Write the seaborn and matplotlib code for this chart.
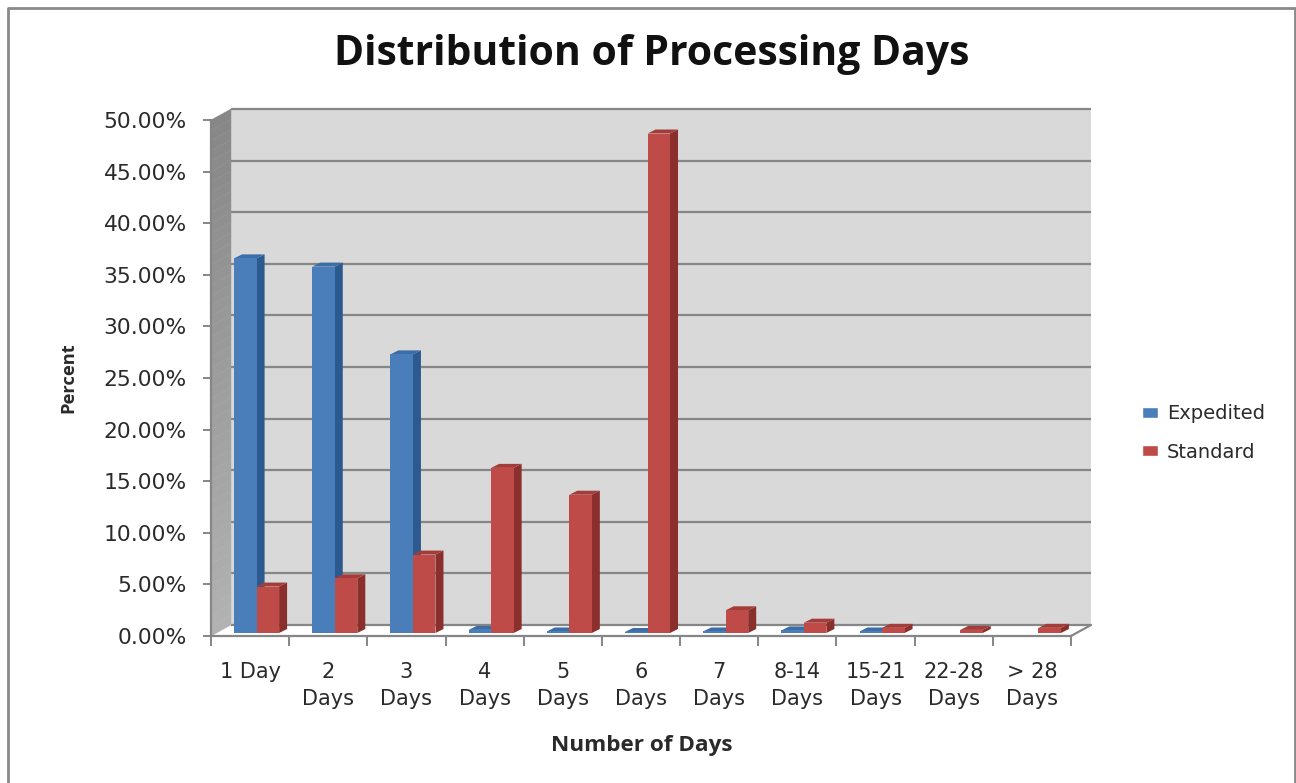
import numpy as np
import pandas as pd
import seaborn as sns
import matplotlib
matplotlib.use("Agg")
import matplotlib.pyplot as plt
from matplotlib.lines import Line2D
from matplotlib.patches import Polygon, Rectangle
from matplotlib.transforms import Affine2D
from matplotlib.ticker import StrMethodFormatter

categories = ["1 Day", "2\nDays", "3\nDays", "4\nDays", "5\nDays", "6\nDays", "7\nDays",
              "8-14\nDays", "15-21\nDays", "22-28\nDays", "> 28\nDays"]
expedited = [36.3, 35.5, 27.0, 0.3, 0.15, 0.1, 0.15, 0.25, 0.15, 0.0, 0.0]
standard = [4.5, 5.3, 7.6, 16.0, 13.4, 48.4, 2.2, 1.0, 0.5, 0.3, 0.5]
y_ticks = [0, 5, 10, 15, 20, 25, 30, 35, 40, 45, 50]

W, H = 1296, 783
BLUE = ("#4a7ebb", "#2c5a8e", "#3d6da6")
RED = ("#be4b48", "#8a2f2c", "#a33d3a")
GRID = "#868686"
TXT = "#2a2a2a"

df = pd.DataFrame({"Days": categories, "Expedited": expedited, "Standard": standard})
long = df.melt(id_vars="Days", var_name="Type", value_name="Percent")

sns.set_theme(style="white")
plt.rcParams["font.family"] = ["DejaVu Sans"]
fig = plt.figure(figsize=(W / 100, H / 100), dpi=100, facecolor="white")
ax = fig.add_axes([211 / W, 1 - 636 / H, 860 / W, 516 / H])
ax.patch.set_alpha(0)

sns.barplot(data=long, x="Days", y="Percent", hue="Type", hue_order=["Expedited", "Standard"],
            palette={"Expedited": BLUE[0], "Standard": RED[0]}, width=0.576, saturation=1,
            linewidth=0, ax=ax, zorder=3)
ax.set_xlim(-0.5, 10.5)
ax.set_ylim(0, 50)

# 3-D box: depth offsets in pixels
wall_dx, wall_dy = 20, 11
wall_tf = ax.transData + Affine2D().translate(wall_dx, wall_dy)
ax.add_patch(Rectangle((-0.5, 0), 11, 50, fc="#d9d9d9", ec="none", transform=wall_tf, zorder=0, clip_on=False))
for t in y_ticks:
    ax.plot([-0.5, 10.5], [t, t], color=GRID, lw=1.6, transform=wall_tf, zorder=1, clip_on=False, solid_capstyle="butt")

to_px = ax.transData.transform
# left side wall, shaded from dark at the top to lighter at the bottom
strips = np.linspace(0, 50, 51)
for lo, hi in zip(strips[:-1], strips[1:]):
    a, b = to_px((-0.5, lo)), to_px((-0.5, hi))
    g = 0.70 - 0.17 * hi / 50
    ax.add_patch(Polygon([a, b, b + (wall_dx, wall_dy), a + (wall_dx, wall_dy)], closed=True,
                         fc=(g, g, g), ec=(g, g, g), lw=0.3, transform=None, zorder=1, clip_on=False))
# floor right edge
fr = to_px((10.5, 0))
ax.add_line(Line2D([fr[0], fr[0] + wall_dx], [fr[1], fr[1] + wall_dy], color=GRID, lw=1.6,
                   transform=None, zorder=1, clip_on=False))

# bars: shift front faces back onto the floor and add side and top faces
bar_dx, bar_dy = 6.5, 3
side_dx, side_dy = 8, 4
shift = ax.transData + Affine2D().translate(bar_dx, bar_dy)
for container, cols in zip(ax.containers, (BLUE, RED)):
    for p in container.patches:
        p.set_clip_on(False)
        if p.get_height() <= 0:
            p.set_visible(False)
            continue
        p.set_transform(shift)
        x0, x1 = p.get_x(), p.get_x() + p.get_width()
        h = p.get_height()
        bl = shift.transform((x0, 0)); br = shift.transform((x1, 0))
        tl = shift.transform((x0, h)); tr = shift.transform((x1, h))
        d = np.array([side_dx, side_dy])
        z = 3 + x0 * 0.001
        ax.add_patch(Polygon([br, tr, tr + d, br + d], closed=True, fc=cols[1], ec="none",
                             transform=None, zorder=z, clip_on=False))
        ax.add_patch(Polygon([tl, tr, tr + d, tl + d], closed=True, fc=cols[2], ec="none",
                             transform=None, zorder=z, clip_on=False))
        p.set_zorder(z + 0.0001)

# axes and ticks
for s in ("top", "right"):
    ax.spines[s].set_visible(False)
for s in ("left", "bottom"):
    ax.spines[s].set_color(GRID)
    ax.spines[s].set_linewidth(1.6)
ax.set_yticks(y_ticks)
ax.yaxis.set_major_formatter(StrMethodFormatter("{x:.2f}%"))
ax.tick_params(axis="y", which="major", left=True, length=6, width=1.4, color=GRID, pad=11.5, labelsize=15.7, labelcolor=TXT)
ax.set_xticks(np.arange(-0.5, 11, 1))
ax.set_xticklabels([])
ax.set_xticks(np.arange(11), minor=True)
ax.set_xticklabels(categories, minor=True, linespacing=1.44)
ax.tick_params(axis="x", which="major", bottom=True, length=7, width=1.4, color=GRID)
ax.tick_params(axis="x", which="minor", bottom=False, length=0, pad=19, labelsize=15, labelcolor=TXT)

ax.set_xlabel("Number of Days", fontsize=16.2, fontweight="bold", color=TXT, fontfamily="Open Sans")
ax.xaxis.set_label_coords((642 - 211) / 860, (636 - 746) / 516)
ax.xaxis.label.set_verticalalignment("center")
ax.set_ylabel("Percent", fontsize=13.2, fontweight="bold", color=TXT, fontfamily="Open Sans")
ax.yaxis.set_label_coords((68 - 211) / 860, (636 - 378) / 516)
ax.yaxis.label.set_verticalalignment("center")
ax.set_title("Distribution of Processing Days", fontsize=29.4, fontweight="bold", color="#111111",
             fontfamily="Open Sans", x=(652 - 211) / 860, y=(636 - 63) / 516, va="center")

handles = [Rectangle((0, 0), 1, 1, fc=BLUE[0]), Rectangle((0, 0), 1, 1, fc=RED[0])]
ax.legend(handles, ["Expedited", "Standard"], loc="center left", frameon=False,
          bbox_to_anchor=((1124 - 211) / 860, (636 - 433) / 516), fontsize=14, labelcolor=TXT,
          handlelength=0.85, handleheight=0.5, handletextpad=0.45, labelspacing=0.98)

# outer chart border (left, top, right)
fig.add_artist(Line2D([8 / W, 8 / W, 1295 / W, 1295 / W], [0, 1 - 8 / H, 1 - 8 / H, 0],
                      color="#8a8a8a", lw=2, transform=fig.transFigure))

fig.savefig("out.png", dpi=100, facecolor="white")
